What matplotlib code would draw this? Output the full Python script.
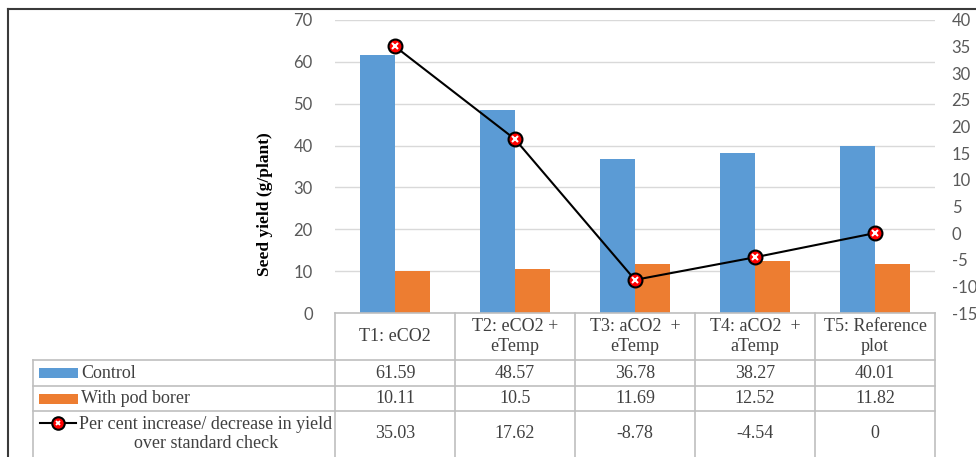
import matplotlib.pyplot as plt
from matplotlib.lines import Line2D
from matplotlib.patches import Rectangle
import numpy as np

treatments = ["T1: eCO2", "T2: eCO2 +\neTemp", "T3: aCO2  +\neTemp",
              "T4: aCO2  +\naTemp", "T5: Reference\nplot"]
control = [61.59, 48.57, 36.78, 38.27, 40.01]
pod_borer = [10.11, 10.5, 11.69, 12.52, 11.82]
pct_change = [35.03, 17.62, -8.78, -4.54, 0]
pct_labels = ["35.03", "17.62", "-8.78", "-4.54", "0"]

BLUE = "#5B9BD5"
ORANGE = "#ED7D31"
GRID = "#D9D9D9"
TXT = "#404040"
TICK = "#595959"

plt.rcParams["axes.unicode_minus"] = False

W, H = 976, 457
fig = plt.figure(figsize=(W / 100, H / 100), dpi=100)


def fx(x):
    return x / W


def fy(y):
    return 1 - y / H


# plot area
left, right, top, bottom = 335, 935, 20, 313
ax = fig.add_axes([fx(left), fy(bottom), fx(right - left), (bottom - top) / H])
x = np.arange(len(treatments))
bw = 0.29
ax.bar(x - bw / 2, control, bw, color=BLUE, zorder=2)
ax.bar(x + bw / 2, pod_borer, bw, color=ORANGE, zorder=2)
ax.set_xlim(-0.5, len(treatments) - 0.5)
ax.set_ylim(0, 70)
ax.set_yticks(range(0, 71, 10))
ax.yaxis.grid(True, color=GRID, linewidth=1, zorder=0)
ax.set_xticks([])
for s in ax.spines.values():
    s.set_visible(False)
ax.tick_params(axis="y", length=0, pad=16, labelsize=12, labelcolor=TICK)
for lab in ax.get_yticklabels():
    lab.set_family("Lato")

ax2 = ax.twinx()
ax2.set_ylim(-15, 40)
ax2.set_yticks(range(-15, 41, 5))
ax2.plot(x, pct_change, color="black", linewidth=1.5, zorder=3)
ax2.plot(x, pct_change, "o", markersize=10, markerfacecolor="#FF0000",
         markeredgecolor="black", markeredgewidth=1.5, zorder=4)
ax2.plot(x, pct_change, "x", markersize=4, markeredgecolor="white",
         markeredgewidth=1.5, zorder=5)
for s in ax2.spines.values():
    s.set_visible(False)
ax2.tick_params(axis="y", length=0, pad=12, labelsize=12, labelcolor=TICK)
for lab in ax2.get_yticklabels():
    lab.set_family("Lato")

fig.text(fx(265), fy(204), "Seed yield (g/plant)", rotation=90, ha="center",
         va="center", family="Liberation Serif", fontweight="bold", fontsize=12.5,
         color="black")

# outer frame (top and left)
fig.add_artist(Line2D([fx(8), 1], [fy(9), fy(9)], color="#3a3a3a", linewidth=1.5))
fig.add_artist(Line2D([fx(8), fx(8)], [fy(9), 0], color="#3a3a3a", linewidth=1.5))

# data table
LINE = "#BFBFBF"
cols = [left + i * 120 for i in range(len(treatments) + 1)]
rows = [313, 360, 386, 411, H]
lab_left = 33
serif = "Liberation Serif"
FS = 13


def hline(y, x0, x1):
    fig.add_artist(Line2D([fx(x0), fx(x1)], [fy(y), fy(y)], color=LINE, linewidth=1.2))


def vline(xp, y0, y1):
    fig.add_artist(Line2D([fx(xp), fx(xp)], [fy(y0), fy(y1)], color=LINE, linewidth=1.2))


hline(rows[0], cols[0], cols[-1])
for r in rows[1:4]:
    hline(r, lab_left, cols[-1])
for c in cols:
    vline(c, rows[0], H)
vline(lab_left, rows[1], H)

for i, t in enumerate(treatments):
    cx = (cols[i] + cols[i + 1]) / 2
    fig.text(fx(cx), fy((rows[0] + rows[1]) / 2), t, ha="center", va="center",
             family=serif, fontsize=FS, color=TXT, linespacing=1.2)
    fig.text(fx(cx), fy((rows[1] + rows[2]) / 2), f"{control[i]:.2f}",
             ha="center", va="center", family=serif, fontsize=FS, color=TXT)
    fig.text(fx(cx), fy((rows[2] + rows[3]) / 2), f"{pod_borer[i]:g}",
             ha="center", va="center", family=serif, fontsize=FS, color=TXT)
    fig.text(fx(cx), fy(rows[3] + 23), pct_labels[i],
             ha="center", va="center", family=serif, fontsize=FS, color=TXT)

# row labels with legend keys
for r, color, name in [(0, BLUE, "Control"), (1, ORANGE, "With pod borer")]:
    yc = (rows[r + 1] + rows[r + 2]) / 2
    fig.add_artist(Rectangle((fx(39), fy(yc + 5)), fx(39), 10 / H,
                             facecolor=color, edgecolor="none"))
    fig.text(fx(81), fy(yc), name, ha="left", va="center", family=serif,
             fontsize=FS, color=TXT)

ly = rows[3] + 12
fig.add_artist(Line2D([fx(40), fx(76)], [fy(ly), fy(ly)], color="black", linewidth=1.5))
fig.add_artist(Line2D([fx(58)], [fy(ly)], marker="o", markersize=9,
                      markerfacecolor="#FF0000", markeredgecolor="black",
                      markeredgewidth=1.5))
fig.add_artist(Line2D([fx(58)], [fy(ly)], marker="x", markersize=3.5,
                      markeredgecolor="white", markeredgewidth=1.3))
fig.text(fx(206), fy(rows[3] + 23), "Per cent increase/ decrease in yield\nover standard check",
         ha="center", va="center", family=serif, fontsize=FS, color=TXT,
         linespacing=1.2)

fig.savefig("out.png", dpi=100)
